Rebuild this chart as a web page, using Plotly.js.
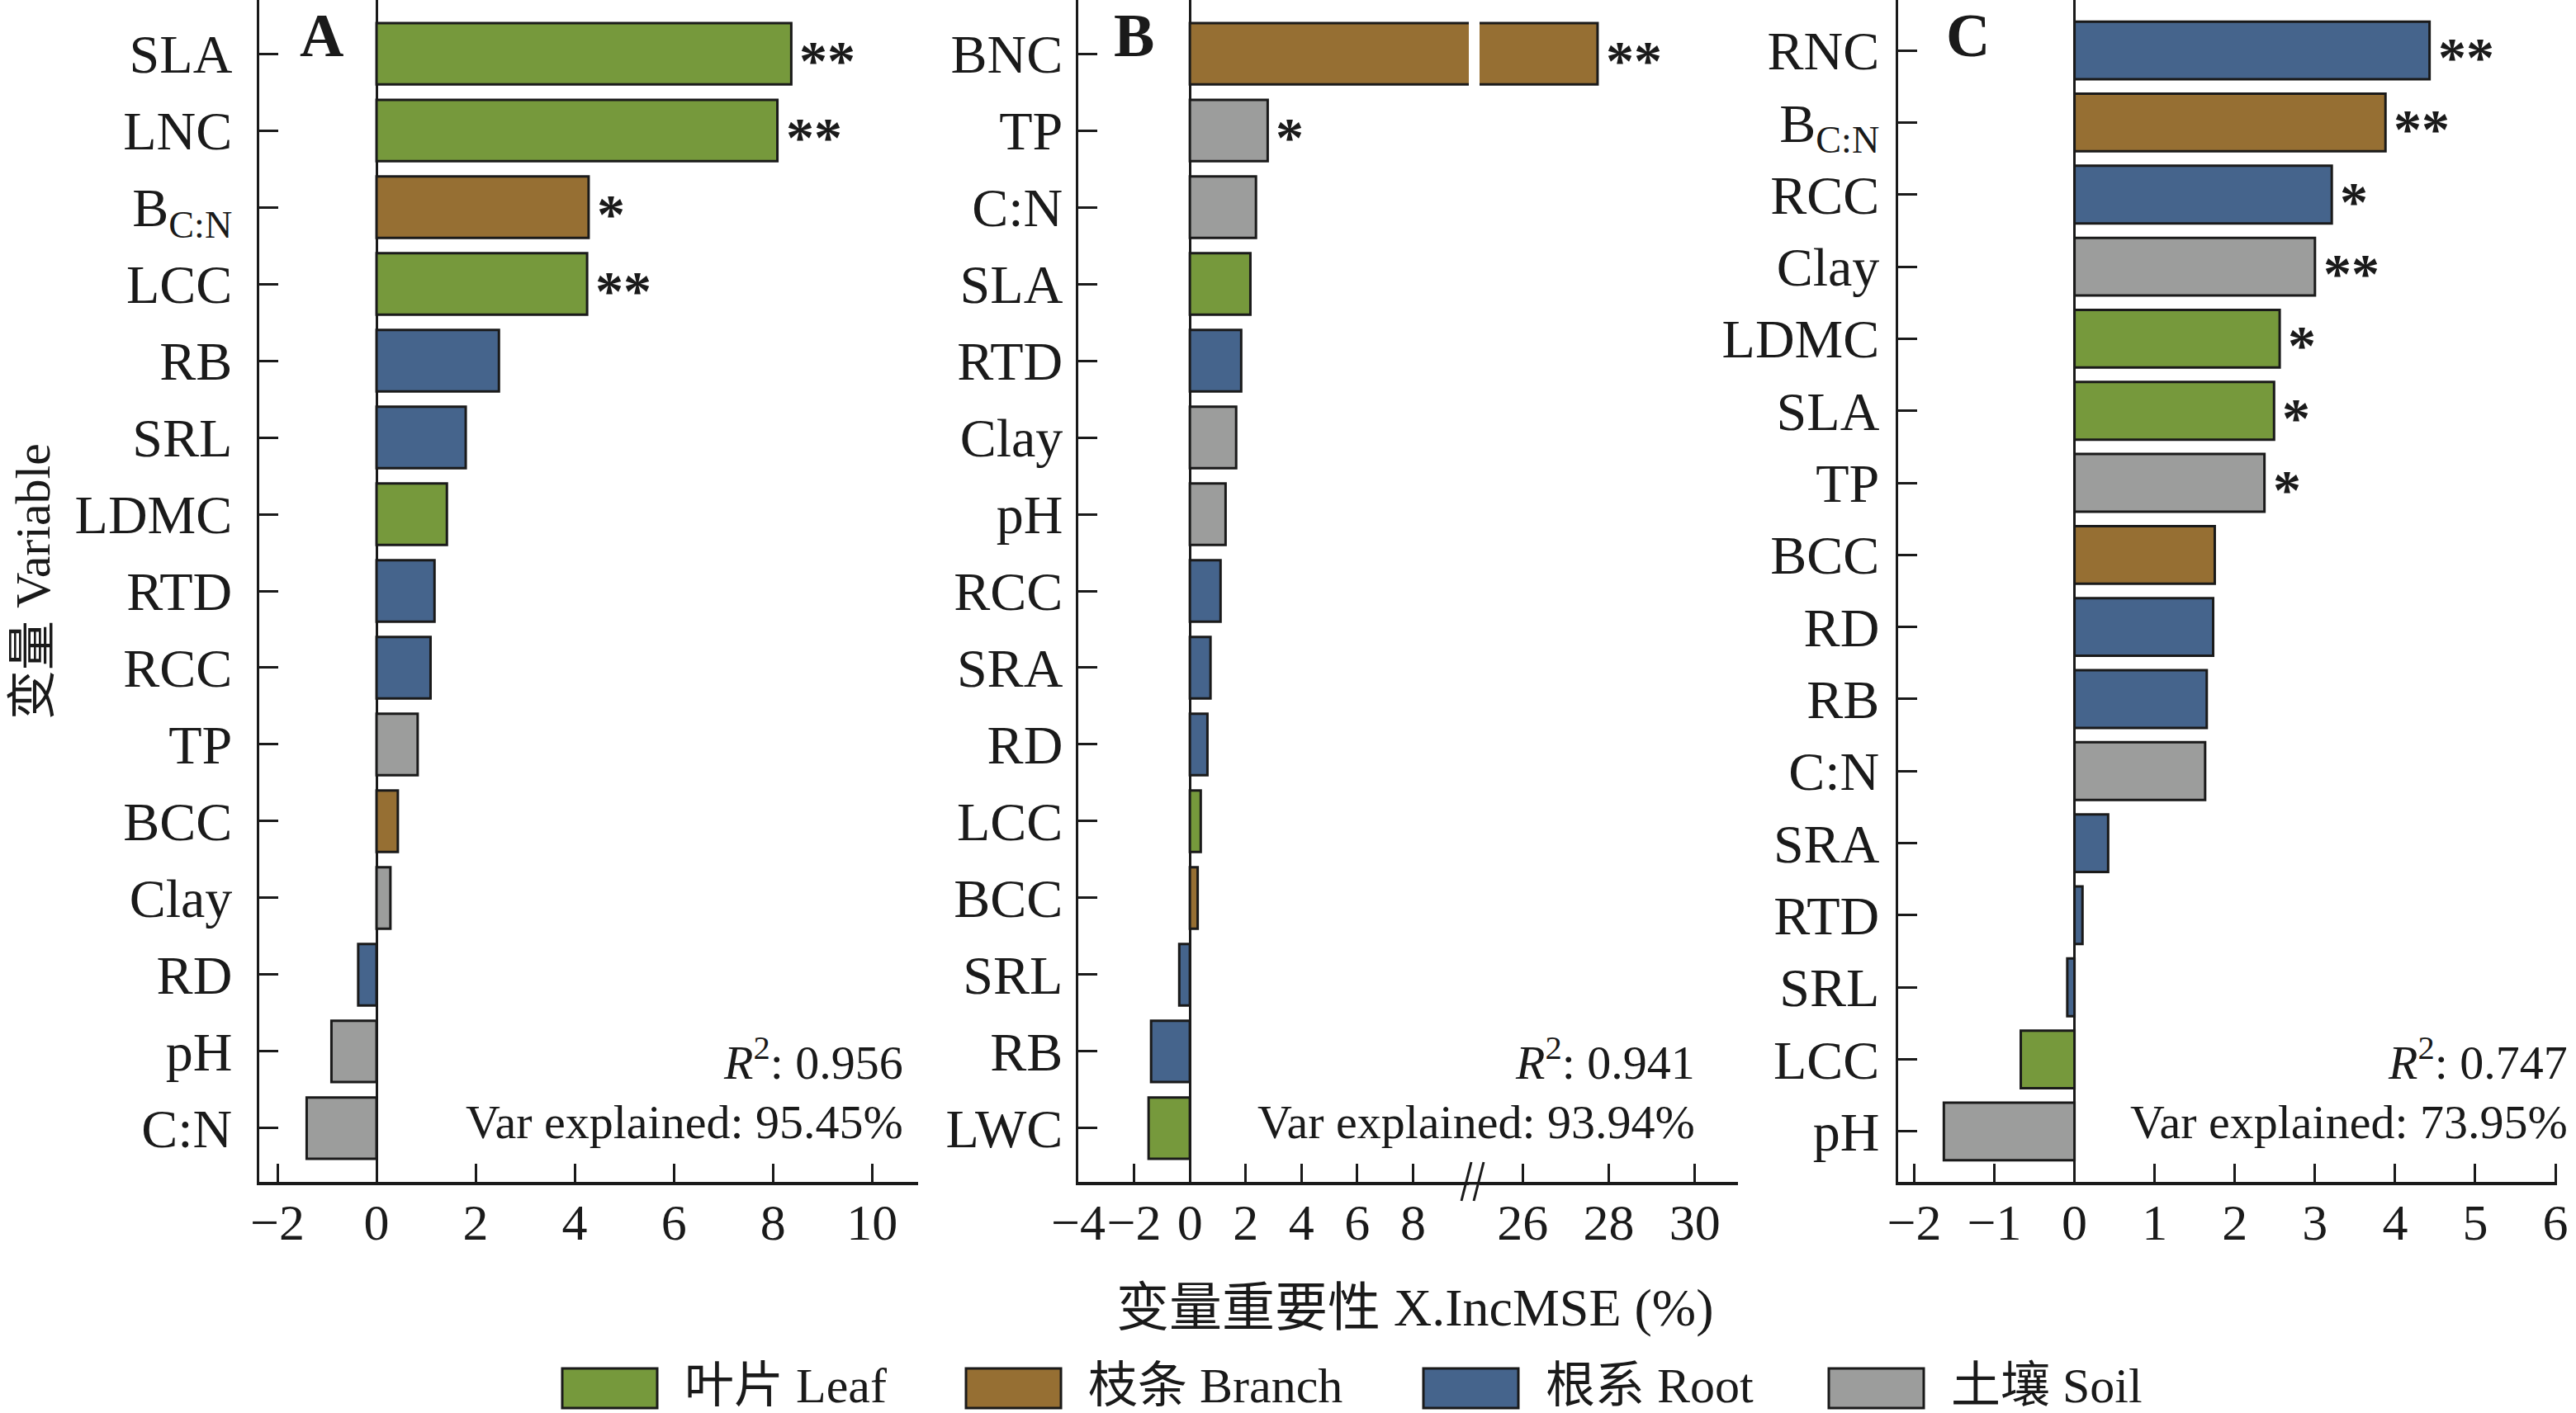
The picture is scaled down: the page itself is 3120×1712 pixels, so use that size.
<!DOCTYPE html>
<html>
<head>
<meta charset="utf-8">
<script src="https://cdn.plot.ly/plotly-3.0.1.min.js"></script>
<style>html,body{margin:0;padding:0;background:#fff;}#chart{width:3120px;height:1712px;}</style>
</head>
<body>
<div id="chart"></div>
<script>
// ---------------- DATA ----------------
const groupNames  = ['Leaf', 'Branch', 'Root', 'Soil'];
const groupLabels = ['叶片 Leaf', '枝条 Branch', '根系 Root', '土壤 Soil'];
const groupColors = ['#76993c', '#966f33', '#45648c', '#9c9d9c'];

const varsA = ['SLA', 'LNC', 'B<sub>C:N</sub>', 'LCC', 'RB', 'SRL', 'LDMC', 'RTD', 'RCC', 'TP', 'BCC', 'Clay', 'RD', 'pH', 'C:N'];
const valsA = [8.37, 8.09, 4.28, 4.25, 2.47, 1.80, 1.42, 1.17, 1.09, 0.83, 0.43, 0.28, -0.37, -0.91, -1.41];
const grpA  = ['Leaf', 'Leaf', 'Branch', 'Leaf', 'Root', 'Root', 'Leaf', 'Root', 'Root', 'Soil', 'Branch', 'Soil', 'Root', 'Soil', 'Soil'];
const sigA  = ['**', '**', '*', '**', '', '', '', '', '', '', '', '', '', '', ''];
const statA = ['0.956', '95.45%'];

const varsB = ['BNC', 'TP', 'C:N', 'SLA', 'RTD', 'Clay', 'pH', 'RCC', 'SRA', 'RD', 'LCC', 'BCC', 'SRL', 'RB', 'LWC'];
const valsB = [27.74, 2.79, 2.37, 2.17, 1.84, 1.66, 1.28, 1.10, 0.74, 0.63, 0.39, 0.28, -0.38, -1.39, -1.48];
const grpB  = ['Branch', 'Soil', 'Soil', 'Leaf', 'Root', 'Soil', 'Soil', 'Root', 'Root', 'Root', 'Leaf', 'Branch', 'Root', 'Root', 'Leaf'];
const sigB  = ['**', '*', '', '', '', '', '', '', '', '', '', '', '', '', ''];
const statB = ['0.941', '93.94%'];

const varsC = ['RNC', 'B<sub>C:N</sub>', 'RCC', 'Clay', 'LDMC', 'SLA', 'TP', 'BCC', 'RD', 'RB', 'C:N', 'SRA', 'RTD', 'SRL', 'LCC', 'pH'];
const valsC = [4.43, 3.88, 3.21, 3.00, 2.56, 2.49, 2.37, 1.75, 1.73, 1.65, 1.63, 0.42, 0.10, -0.09, -0.67, -1.63];
const grpC  = ['Root', 'Branch', 'Root', 'Soil', 'Leaf', 'Leaf', 'Soil', 'Branch', 'Root', 'Root', 'Soil', 'Root', 'Root', 'Root', 'Leaf', 'Soil'];
const sigC  = ['**', '**', '*', '**', '*', '*', '*', '', '', '', '', '', '', '', '', ''];
const statC = ['0.747', '73.95%'];

const ticksA  = [-2, 0, 2, 4, 6, 8, 10];
const ticksB1 = [-4, -2, 0, 2, 4, 6, 8];
const ticksB2 = [26, 28, 30];
const ticksC  = [-2, -1, 0, 1, 2, 3, 4, 5, 6];

const xTitle = '变量重要性 X.IncMSE (%)';
const yTitle = '变量 Variable';

// ---------------- LAYOUT HELPERS ----------------
const W = 3120, H = 1712;
const FONT = 'Liberation Serif, "Noto Sans CJK SC", serif';
const INK = '#1a1a1a';
const px = p => p / W;
const py = p => 1 - p / H;
const AXIS_Y = 1432;
const yDom = [py(AXIS_Y), 1];

function colorOf(g) { return groupColors[groupNames.indexOf(g)]; }

function barTrace(vars, vals, grp, xa, ya) {
  return {
    type: 'bar', orientation: 'h', x: vals, y: vars, xaxis: xa, yaxis: ya,
    width: 0.8, cliponaxis: true, hoverinfo: 'skip', showlegend: false,
    marker: { color: grp.map(colorOf), line: { color: INK, width: 3 } }
  };
}

function xAxis(d0, d1, range, tickvals, anchor, zero) {
  return {
    domain: [px(d0), px(d1)], range: range, anchor: anchor,
    tickmode: 'array', tickvals: tickvals, tickangle: 0,
    ticks: 'inside', ticklen: 22, tickwidth: 3, tickcolor: INK,
    showline: true, linecolor: INK, linewidth: 3.5,
    showgrid: false, zeroline: zero, zerolinecolor: INK, zerolinewidth: 3,
    tickfont: { family: FONT, size: 62, color: INK },
    ticklabelstandoff: -8, fixedrange: true
  };
}

function yAxis(vars, anchor, standoff, visible) {
  return {
    domain: yDom, anchor: anchor, type: 'category',
    categoryorder: 'array', categoryarray: vars,
    range: [vars.length - 1 + 0.7, -0.7],
    ticks: visible ? 'inside' : '', ticklen: 23, tickwidth: 3, tickcolor: INK,
    showline: visible, linecolor: INK, linewidth: 3.5,
    showticklabels: visible, showgrid: false, zeroline: false,
    tickfont: { family: FONT, size: 66, color: INK },
    ticklabelstandoff: standoff, fixedrange: true
  };
}

const B1max = 10, B2min = 25;

const traces = [
  barTrace(varsA, valsA, grpA, 'x', 'y'),
  barTrace(varsB, valsB, grpB, 'x2', 'y2'),
  barTrace(varsB, valsB, grpB, 'x3', 'y3'),
  barTrace(varsC, valsC, grpC, 'x4', 'y4')
];

const annotations = [];
const shapes = [];

// significance marks
function addSig(vars, vals, sig, xrefFn, yref) {
  vars.forEach((v, i) => {
    if (!sig[i]) return;
    const xr = xrefFn(vals[i]);
    annotations.push({
      xref: xr, yref: yref, x: vals[i], y: v, text: '<b>' + sig[i] + '</b>',
      xanchor: 'left', yanchor: 'middle', xshift: 8, yshift: -8, showarrow: false,
      font: { family: FONT, size: 68, color: INK }
    });
  });
}
addSig(varsA, valsA, sigA, () => 'x', 'y');
addSig(varsB, valsB, sigB, v => (v > B1max ? 'x3' : 'x2'), 'y2');
addSig(varsC, valsC, sigC, () => 'x4', 'y4');

// stats text
function addStats(stat, rightPx) {
  annotations.push({
    xref: 'paper', yref: 'paper', x: px(rightPx), y: py(1283), xanchor: 'right', yanchor: 'middle',
    text: '<i>R</i><sup>2</sup>: ' + stat[0], showarrow: false,
    font: { family: FONT, size: 58, color: INK }
  });
  annotations.push({
    xref: 'paper', yref: 'paper', x: px(rightPx), y: py(1359), xanchor: 'right', yanchor: 'middle',
    text: 'Var explained: ' + stat[1], showarrow: false,
    font: { family: FONT, size: 58, color: INK }
  });
}
addStats(statA, 1096);
addStats(statB, 2055);
addStats(statC, 3112);

// panel letters
[['A', 389], ['B', 1373], ['C', 2383]].forEach(([t, x]) => {
  annotations.push({
    xref: 'paper', yref: 'paper', x: px(x), y: 1, xanchor: 'center', yanchor: 'top',
    text: '<b>' + t + '</b>', showarrow: false, font: { family: FONT, size: 74, color: INK }
  });
});

// axis titles
annotations.push({
  xref: 'paper', yref: 'paper', x: px(1713), y: py(1584), xanchor: 'center', yanchor: 'middle',
  text: xTitle, showarrow: false, font: { family: FONT, size: 64, color: INK }
});
annotations.push({
  xref: 'paper', yref: 'paper', x: px(40), y: py(705), xanchor: 'center', yanchor: 'middle',
  text: yTitle, textangle: -90, showarrow: false, font: { family: FONT, size: 60, color: INK }
});

// broken axis connector and marks for panel B
shapes.push({ type: 'line', xref: 'paper', yref: 'paper', x0: px(1776), x1: px(1796), y0: py(AXIS_Y + 1.75), y1: py(AXIS_Y + 1.75), line: { color: INK, width: 3.5 } });
shapes.push({ type: 'line', xref: 'paper', yref: 'paper', x0: px(1770), x1: px(1782), y0: py(1455), y1: py(1408), line: { color: INK, width: 3 } });
shapes.push({ type: 'line', xref: 'paper', yref: 'paper', x0: px(1785), x1: px(1797), y0: py(1455), y1: py(1408), line: { color: INK, width: 3 } });

// legend
const legendX = [681, 1170, 1724, 2215];
groupNames.forEach((g, i) => {
  const x0 = legendX[i];
  shapes.push({
    type: 'rect', xref: 'paper', yref: 'paper', x0: px(x0), x1: px(x0 + 115), y0: py(1706), y1: py(1658),
    fillcolor: groupColors[i], line: { color: INK, width: 3 }
  });
  annotations.push({
    xref: 'paper', yref: 'paper', x: px(x0 + 146), y: py(1679), xanchor: 'left', yanchor: 'middle',
    text: groupLabels[i], showarrow: false, font: { family: FONT, size: 60, color: INK }
  });
});

const layout = {
  width: W, height: H, margin: { l: 0, r: 0, t: 0, b: 0, pad: 0 },
  paper_bgcolor: '#fff', plot_bgcolor: 'rgba(0,0,0,0)',
  showlegend: false, bargap: 0.2,
  font: { family: FONT, color: INK },
  xaxis:  xAxis(314, 1112, [-2.367, 10.93], ticksA, 'y', true),
  yaxis:  yAxis(varsA, 'x', 16, true),
  xaxis2: xAxis(1306, 1779, [-4.0, B1max], ticksB1, 'y2', true),
  yaxis2: yAxis(varsB, 'x2', 2, true),
  xaxis3: xAxis(1792, 2105, [B2min, 31.0], ticksB2, 'y3', false),
  yaxis3: yAxis(varsB, 'x3', 2, false),
  xaxis4: xAxis(2299, 3097, [-2.2, 6.02], ticksC, 'y4', true),
  yaxis4: yAxis(varsC, 'x4', 6, true),
  annotations: annotations, shapes: shapes
};

Plotly.newPlot('chart', traces, layout, { staticPlot: true, displayModeBar: false });
</script>
</body>
</html>
